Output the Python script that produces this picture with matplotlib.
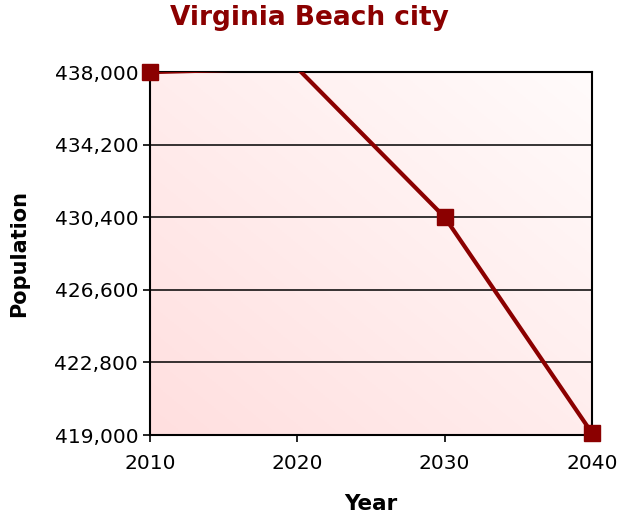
import numpy as np
import matplotlib
matplotlib.use('Agg')
import matplotlib.pyplot as plt
from matplotlib.colors import LinearSegmentedColormap

years = [2010, 2020, 2030, 2040]
population = [437994, 438200, 430400, 419100]
yticks = [419000, 422800, 426600, 430400, 434200, 438000]
xticks = [2010, 2020, 2030, 2040]

dark_red = '#8b0000'
ymin, ymax = 419000, 438000

fig = plt.figure(figsize=(6.18, 5.17), dpi=100)
ax = fig.add_axes([150/618, 1-435/517, 442/618, 363/517])

# background gradient: pink bottom-left to near white top-right
gx, gy = np.meshgrid(np.linspace(0, 1, 200), np.linspace(0, 1, 200))
grad = (gx + gy) / 2
cmap = LinearSegmentedColormap.from_list('bg', ['#ffdfdf', '#fffbfb'])
ax.imshow(grad, cmap=cmap, origin='lower', aspect='auto',
          extent=[2010, 2040, ymin, ymax], zorder=0)

for y in yticks:
    ax.axhline(y, color='black', lw=1.1, zorder=1)

# line clipped to the plot, markers only for points inside the y range
ax.plot(years, population, color=dark_red, lw=3, zorder=3)
inside = [(x, p) for x, p in zip(years, population) if p <= ymax + 50]
ax.plot([i[0] for i in inside], [i[1] for i in inside], ls='none', marker='s',
        ms=12, color=dark_red, clip_on=False, zorder=4)

ax.set_xlim(2010, 2040)
ax.set_ylim(ymin, ymax)
ax.set_xticks(xticks)
ax.set_yticks(yticks)
ax.set_yticklabels(['{:,}'.format(v) for v in yticks])
ax.tick_params(labelsize=14.5, direction='out', length=5, width=1.2, colors='black')
ax.tick_params(axis='x', pad=9)
for s in ax.spines.values():
    s.set_color('black')
    s.set_linewidth(1.5)

ax.set_xlabel('Year', fontsize=15.5, fontweight='bold', labelpad=15)
ax.set_ylabel('Population', fontsize=15, fontweight='bold', labelpad=18)
fig.text(0.5, 1-18/517, 'Virginia Beach city', fontsize=19, fontweight='bold',
         color=dark_red, ha='center', va='center')

plt.savefig('out.png', dpi=100)
